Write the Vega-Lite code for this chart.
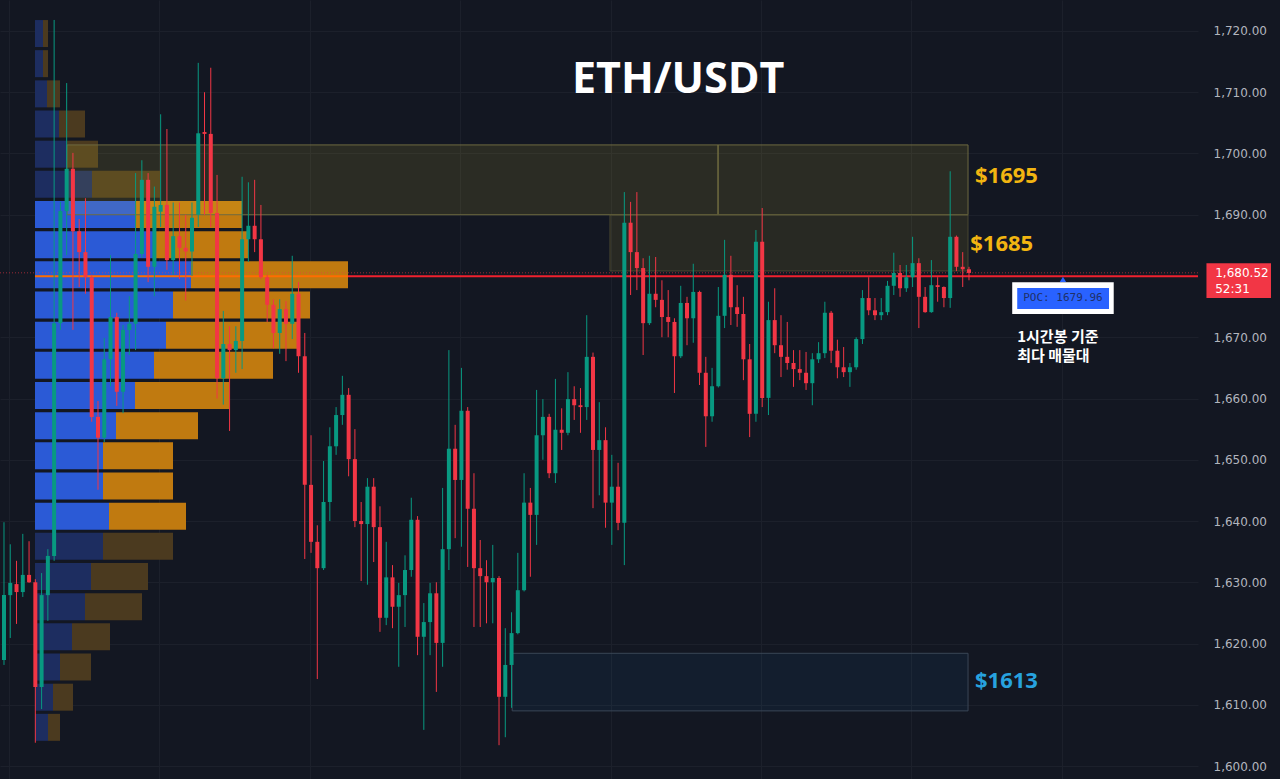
{
  "$schema": "https://vega.github.io/schema/vega-lite/v6.json",
  "width": 1198,
  "height": 779,
  "autosize": "none",
  "padding": {"left": 0, "top": 0, "right": 82, "bottom": 0},
  "background": "#131722",
  "config": {"view": {"stroke": null}, "scale": {"continuousPadding": 0}},
  "datasets": {
    "profile": [
      {"mid": 1719.34, "up": 0.8, "total": 1.3, "va": false},
      {"mid": 1714.42, "up": 0.8, "total": 1.3, "va": false},
      {"mid": 1709.49, "up": 1.2, "total": 2.5, "va": false},
      {"mid": 1704.57, "up": 2.4, "total": 5.0, "va": false},
      {"mid": 1699.64, "up": 3.2, "total": 6.3, "va": false},
      {"mid": 1694.72, "up": 5.7, "total": 12.5, "va": false},
      {"mid": 1689.79, "up": 10.0, "total": 20.7, "va": true},
      {"mid": 1684.87, "up": 12.0, "total": 21.3, "va": true},
      {"mid": 1679.94, "up": 15.6, "total": 31.3, "va": true},
      {"mid": 1675.02, "up": 13.8, "total": 27.5, "va": true},
      {"mid": 1670.09, "up": 13.1, "total": 26.2, "va": true},
      {"mid": 1665.17, "up": 11.9, "total": 23.8, "va": true},
      {"mid": 1660.24, "up": 10.0, "total": 19.4, "va": true},
      {"mid": 1655.32, "up": 8.1, "total": 16.3, "va": true},
      {"mid": 1650.39, "up": 6.8, "total": 13.8, "va": true},
      {"mid": 1645.47, "up": 6.8, "total": 13.8, "va": true},
      {"mid": 1640.54, "up": 7.4, "total": 15.1, "va": true},
      {"mid": 1635.62, "up": 6.8, "total": 13.8, "va": false},
      {"mid": 1630.69, "up": 5.6, "total": 11.3, "va": false},
      {"mid": 1625.77, "up": 5.0, "total": 10.7, "va": false},
      {"mid": 1620.84, "up": 3.7, "total": 7.5, "va": false},
      {"mid": 1615.92, "up": 2.5, "total": 5.6, "va": false},
      {"mid": 1610.99, "up": 1.8, "total": 3.8, "va": false},
      {"mid": 1606.07, "up": 1.3, "total": 2.5, "va": false}
    ],
    "candles": [
      {"i":0,"o":1617.3,"h":1639.8,"l":1616.5,"c":1627.9},
      {"i":1,"o":1627.9,"h":1636.2,"l":1620.9,"c":1629.9},
      {"i":2,"o":1629.7,"h":1633.5,"l":1623.2,"c":1628.4},
      {"i":3,"o":1628.4,"h":1637.9,"l":1627.6,"c":1631.2},
      {"i":4,"o":1631.2,"h":1636.7,"l":1629.9,"c":1630.0},
      {"i":5,"o":1630.0,"h":1630.5,"l":1603.8,"c":1612.9},
      {"i":6,"o":1612.9,"h":1631.5,"l":1609.3,"c":1627.9},
      {"i":7,"o":1627.9,"h":1635.4,"l":1623.7,"c":1634.3},
      {"i":8,"o":1634.3,"h":1721.8,"l":1633.5,"c":1672.3},
      {"i":9,"o":1672.3,"h":1692.1,"l":1671.2,"c":1690.6},
      {"i":10,"o":1690.6,"h":1711.5,"l":1683.4,"c":1697.5},
      {"i":11,"o":1697.5,"h":1700.1,"l":1671.2,"c":1687.3},
      {"i":12,"o":1687.3,"h":1689.3,"l":1678.2,"c":1683.9},
      {"i":13,"o":1683.9,"h":1692.7,"l":1677.1,"c":1679.8},
      {"i":14,"o":1679.8,"h":1680.2,"l":1656.2,"c":1657.0},
      {"i":15,"o":1657.0,"h":1659.6,"l":1645.1,"c":1653.6},
      {"i":16,"o":1653.6,"h":1669.9,"l":1652.9,"c":1666.4},
      {"i":17,"o":1666.4,"h":1683.4,"l":1662.0,"c":1673.3},
      {"i":18,"o":1673.3,"h":1674.0,"l":1658.8,"c":1661.1},
      {"i":19,"o":1661.1,"h":1672.0,"l":1657.6,"c":1671.2},
      {"i":20,"o":1671.2,"h":1676.7,"l":1667.1,"c":1672.2},
      {"i":21,"o":1672.2,"h":1696.8,"l":1667.9,"c":1683.6},
      {"i":22,"o":1683.6,"h":1698.9,"l":1683.0,"c":1695.7},
      {"i":23,"o":1695.7,"h":1696.8,"l":1679.0,"c":1681.5},
      {"i":24,"o":1681.5,"h":1694.6,"l":1676.7,"c":1691.3},
      {"i":25,"o":1690.5,"h":1706.4,"l":1688.0,"c":1691.6},
      {"i":26,"o":1691.6,"h":1704.0,"l":1681.0,"c":1682.6},
      {"i":27,"o":1682.6,"h":1692.0,"l":1680.2,"c":1686.5},
      {"i":28,"o":1686.5,"h":1692.0,"l":1679.5,"c":1684.6},
      {"i":29,"o":1684.6,"h":1690.0,"l":1676.0,"c":1684.0},
      {"i":30,"o":1684.0,"h":1692.0,"l":1680.0,"c":1689.5},
      {"i":31,"o":1690.0,"h":1714.8,"l":1688.0,"c":1703.3},
      {"i":32,"o":1703.5,"h":1710.0,"l":1690.0,"c":1703.2},
      {"i":33,"o":1703.2,"h":1714.0,"l":1688.0,"c":1690.3},
      {"i":34,"o":1690.3,"h":1696.5,"l":1660.0,"c":1663.3},
      {"i":35,"o":1663.3,"h":1674.3,"l":1659.0,"c":1668.9},
      {"i":36,"o":1668.9,"h":1671.8,"l":1654.7,"c":1667.9},
      {"i":37,"o":1667.9,"h":1671.8,"l":1664.2,"c":1669.4},
      {"i":38,"o":1669.4,"h":1696.2,"l":1664.8,"c":1686.0},
      {"i":39,"o":1686.0,"h":1695.3,"l":1682.3,"c":1688.2},
      {"i":40,"o":1688.2,"h":1695.7,"l":1683.9,"c":1686.0},
      {"i":41,"o":1686.0,"h":1691.6,"l":1679.5,"c":1679.8},
      {"i":42,"o":1679.8,"h":1680.2,"l":1672.5,"c":1675.3},
      {"i":43,"o":1675.3,"h":1676.2,"l":1668.2,"c":1670.7},
      {"i":44,"o":1670.7,"h":1676.2,"l":1667.3,"c":1674.6},
      {"i":45,"o":1674.6,"h":1675.9,"l":1666.1,"c":1672.2},
      {"i":46,"o":1672.2,"h":1683.3,"l":1669.7,"c":1677.1},
      {"i":47,"o":1677.1,"h":1679.0,"l":1664.2,"c":1666.9},
      {"i":48,"o":1666.9,"h":1670.7,"l":1633.8,"c":1645.9},
      {"i":49,"o":1645.9,"h":1654.0,"l":1634.8,"c":1636.6},
      {"i":50,"o":1636.6,"h":1639.3,"l":1614.2,"c":1632.3},
      {"i":51,"o":1632.3,"h":1649.8,"l":1632.0,"c":1643.1},
      {"i":52,"o":1643.1,"h":1655.3,"l":1640.0,"c":1652.2},
      {"i":53,"o":1652.2,"h":1658.6,"l":1650.8,"c":1657.3},
      {"i":54,"o":1657.3,"h":1663.7,"l":1655.7,"c":1660.6},
      {"i":55,"o":1660.6,"h":1661.7,"l":1647.3,"c":1650.1},
      {"i":56,"o":1650.1,"h":1655.0,"l":1639.0,"c":1640.0},
      {"i":57,"o":1640.0,"h":1643.1,"l":1630.2,"c":1639.5},
      {"i":58,"o":1639.5,"h":1647.0,"l":1629.6,"c":1645.6},
      {"i":59,"o":1645.6,"h":1647.0,"l":1633.3,"c":1639.0},
      {"i":60,"o":1639.0,"h":1642.4,"l":1621.9,"c":1624.2},
      {"i":61,"o":1624.2,"h":1636.6,"l":1623.0,"c":1630.8},
      {"i":62,"o":1630.8,"h":1632.8,"l":1622.5,"c":1626.0},
      {"i":63,"o":1626.0,"h":1629.9,"l":1616.2,"c":1627.9},
      {"i":64,"o":1627.9,"h":1634.4,"l":1622.7,"c":1632.0},
      {"i":65,"o":1632.0,"h":1643.8,"l":1630.9,"c":1640.2},
      {"i":66,"o":1640.2,"h":1640.8,"l":1618.1,"c":1621.1},
      {"i":67,"o":1621.1,"h":1626.6,"l":1605.9,"c":1623.5},
      {"i":68,"o":1623.5,"h":1629.9,"l":1618.1,"c":1628.2},
      {"i":69,"o":1628.2,"h":1630.0,"l":1612.1,"c":1620.1},
      {"i":70,"o":1620.1,"h":1645.4,"l":1616.2,"c":1635.4},
      {"i":71,"o":1635.4,"h":1667.9,"l":1632.0,"c":1651.8},
      {"i":72,"o":1651.8,"h":1655.7,"l":1637.2,"c":1646.7},
      {"i":73,"o":1646.7,"h":1665.0,"l":1635.8,"c":1658.0},
      {"i":74,"o":1658.0,"h":1658.6,"l":1632.5,"c":1642.0},
      {"i":75,"o":1642.0,"h":1647.8,"l":1622.7,"c":1632.3},
      {"i":76,"o":1632.3,"h":1636.9,"l":1622.7,"c":1631.0},
      {"i":77,"o":1631.0,"h":1633.6,"l":1623.3,"c":1630.0},
      {"i":78,"o":1630.0,"h":1636.1,"l":1623.3,"c":1630.7},
      {"i":79,"o":1630.7,"h":1631.0,"l":1603.4,"c":1611.3},
      {"i":80,"o":1611.3,"h":1622.5,"l":1604.7,"c":1616.5},
      {"i":81,"o":1616.5,"h":1625.1,"l":1609.5,"c":1621.7},
      {"i":82,"o":1621.7,"h":1634.8,"l":1621.5,"c":1628.7},
      {"i":83,"o":1628.7,"h":1647.8,"l":1628.5,"c":1643.0},
      {"i":84,"o":1643.0,"h":1645.4,"l":1630.9,"c":1641.0},
      {"i":85,"o":1641.0,"h":1661.4,"l":1636.1,"c":1654.0},
      {"i":86,"o":1654.0,"h":1659.9,"l":1650.0,"c":1657.0},
      {"i":87,"o":1657.0,"h":1657.5,"l":1647.0,"c":1647.8},
      {"i":88,"o":1647.8,"h":1663.2,"l":1646.2,"c":1654.9},
      {"i":89,"o":1654.9,"h":1658.4,"l":1651.6,"c":1654.4},
      {"i":90,"o":1654.4,"h":1664.3,"l":1654.0,"c":1659.9},
      {"i":91,"o":1659.9,"h":1662.0,"l":1656.5,"c":1658.9},
      {"i":92,"o":1658.9,"h":1661.7,"l":1654.4,"c":1658.6},
      {"i":93,"o":1658.6,"h":1673.6,"l":1656.5,"c":1666.8},
      {"i":94,"o":1666.8,"h":1667.5,"l":1642.1,"c":1651.6},
      {"i":95,"o":1651.6,"h":1659.4,"l":1644.2,"c":1653.2},
      {"i":96,"o":1653.2,"h":1655.3,"l":1638.9,"c":1643.0},
      {"i":97,"o":1643.0,"h":1650.8,"l":1636.1,"c":1645.6},
      {"i":98,"o":1645.6,"h":1649.5,"l":1638.5,"c":1639.7},
      {"i":99,"o":1639.7,"h":1693.7,"l":1632.8,"c":1688.7},
      {"i":100,"o":1688.7,"h":1692.1,"l":1676.9,"c":1683.9},
      {"i":101,"o":1683.9,"h":1693.7,"l":1677.7,"c":1681.3},
      {"i":102,"o":1681.3,"h":1682.9,"l":1667.1,"c":1672.3},
      {"i":103,"o":1672.3,"h":1683.3,"l":1672.0,"c":1677.1},
      {"i":104,"o":1677.1,"h":1683.1,"l":1674.9,"c":1676.1},
      {"i":105,"o":1676.1,"h":1679.3,"l":1670.0,"c":1673.3},
      {"i":106,"o":1673.3,"h":1677.7,"l":1670.0,"c":1672.5},
      {"i":107,"o":1672.5,"h":1673.1,"l":1660.9,"c":1666.9},
      {"i":108,"o":1666.9,"h":1678.4,"l":1666.6,"c":1675.6},
      {"i":109,"o":1675.6,"h":1676.6,"l":1668.7,"c":1673.1},
      {"i":110,"o":1673.1,"h":1682.0,"l":1669.1,"c":1677.4},
      {"i":111,"o":1677.4,"h":1677.6,"l":1662.2,"c":1664.2},
      {"i":112,"o":1664.2,"h":1666.8,"l":1652.1,"c":1657.1},
      {"i":113,"o":1657.1,"h":1665.0,"l":1656.2,"c":1662.0},
      {"i":114,"o":1662.0,"h":1678.2,"l":1661.8,"c":1673.5},
      {"i":115,"o":1673.5,"h":1685.9,"l":1671.5,"c":1680.2},
      {"i":116,"o":1680.2,"h":1683.3,"l":1672.0,"c":1674.9},
      {"i":117,"o":1674.9,"h":1678.5,"l":1671.7,"c":1673.8},
      {"i":118,"o":1673.8,"h":1676.6,"l":1663.0,"c":1666.4},
      {"i":119,"o":1666.4,"h":1668.9,"l":1653.7,"c":1657.5},
      {"i":120,"o":1657.5,"h":1687.5,"l":1656.2,"c":1685.6},
      {"i":121,"o":1685.6,"h":1691.1,"l":1658.6,"c":1660.1},
      {"i":122,"o":1660.1,"h":1675.8,"l":1657.3,"c":1672.8},
      {"i":123,"o":1672.8,"h":1678.0,"l":1667.4,"c":1668.7},
      {"i":124,"o":1668.7,"h":1673.6,"l":1663.5,"c":1666.8},
      {"i":125,"o":1666.8,"h":1672.5,"l":1664.7,"c":1665.8},
      {"i":126,"o":1665.8,"h":1667.9,"l":1661.9,"c":1664.8},
      {"i":127,"o":1664.8,"h":1667.9,"l":1663.0,"c":1664.2},
      {"i":128,"o":1664.2,"h":1667.6,"l":1661.4,"c":1662.5},
      {"i":129,"o":1662.5,"h":1667.4,"l":1658.9,"c":1666.4},
      {"i":130,"o":1666.4,"h":1669.2,"l":1665.8,"c":1667.4},
      {"i":131,"o":1667.4,"h":1675.8,"l":1666.6,"c":1674.0},
      {"i":132,"o":1674.0,"h":1674.3,"l":1665.8,"c":1667.8},
      {"i":133,"o":1667.8,"h":1669.6,"l":1663.3,"c":1665.1},
      {"i":134,"o":1665.1,"h":1668.4,"l":1663.5,"c":1664.3},
      {"i":135,"o":1664.3,"h":1665.8,"l":1661.9,"c":1665.1},
      {"i":136,"o":1665.1,"h":1670.0,"l":1664.7,"c":1669.7},
      {"i":137,"o":1669.7,"h":1677.7,"l":1668.9,"c":1676.4},
      {"i":138,"o":1676.4,"h":1679.8,"l":1673.6,"c":1674.4},
      {"i":139,"o":1674.4,"h":1676.4,"l":1672.8,"c":1673.6},
      {"i":140,"o":1673.6,"h":1676.4,"l":1672.8,"c":1674.1},
      {"i":141,"o":1674.1,"h":1679.2,"l":1673.6,"c":1678.4},
      {"i":142,"o":1678.4,"h":1683.8,"l":1676.9,"c":1680.5},
      {"i":143,"o":1680.5,"h":1681.8,"l":1676.6,"c":1678.0},
      {"i":144,"o":1678.0,"h":1681.8,"l":1677.4,"c":1679.8},
      {"i":145,"o":1679.8,"h":1686.4,"l":1678.2,"c":1682.1},
      {"i":146,"o":1682.1,"h":1682.9,"l":1671.5,"c":1676.6},
      {"i":147,"o":1676.6,"h":1678.2,"l":1674.0,"c":1674.1},
      {"i":148,"o":1674.1,"h":1682.6,"l":1674.0,"c":1678.5},
      {"i":149,"o":1678.5,"h":1679.8,"l":1675.8,"c":1678.2},
      {"i":150,"o":1678.2,"h":1678.3,"l":1674.9,"c":1676.4},
      {"i":151,"o":1676.4,"h":1697.1,"l":1674.8,"c":1686.4},
      {"i":152,"o":1686.4,"h":1686.6,"l":1680.8,"c":1681.5},
      {"i":153,"o":1681.5,"h":1683.9,"l":1678.2,"c":1681.1},
      {"i":154,"o":1681.1,"h":1681.5,"l":1679.3,"c":1680.5}
    ]
  },
  "resolve": {"scale": {"x": "independent"}},
  "layer": [
    {
      "layer": [
        {
          "data": {"name": "profile"},
          "mark": {"type": "bar", "orient": "horizontal", "size": 27, "yOffset": -1.5},
          "encoding": {
            "x": {"field": "up", "type": "quantitative", "scale": {"domain": [-3.5, 116.3], "nice": false, "zero": false, "padding": 0}, "axis": null},
            "y": {"field": "mid", "type": "quantitative", "scale": {"domain": [1597.88, 1725.06], "nice": false, "zero": false, "padding": 0},
              "axis": {"orient": "right", "values": [1600,1610,1620,1630,1640,1650,1660,1670,1690,1700,1710,1720], "format": ",.2f", "labelColor": "#b2b5be", "labelFont": "DejaVu Sans", "labelFontSize": 12, "labelPadding": 15, "labelAlign": "left", "labelBaseline": "middle", "ticks": false, "domain": false, "title": null, "grid": true, "gridColor": "#1c202b", "gridWidth": 1}},
            "color": {"condition": {"test": "datum.va", "value": "#2b5ad6"}, "value": "#1d2d60"}
          }
        },
        {
          "data": {"name": "profile"},
          "mark": {"type": "bar", "orient": "horizontal", "size": 27, "yOffset": -1.5},
          "encoding": {
            "x": {"field": "up", "type": "quantitative"},
            "x2": {"field": "total"},
            "y": {"field": "mid", "type": "quantitative"},
            "color": {"condition": {"test": "datum.va", "value": "#c07a10"}, "value": "#4b3a1f"}
          }
        },
        {
          "data": {"values": [{"p": 1680.52, "from": -3.5, "to": 116.3}]},
          "mark": {"type": "rule", "stroke": "#f23645", "strokeDash": [1, 2], "strokeWidth": 1, "opacity": 0.6},
          "encoding": {"x": {"field": "from", "type": "quantitative"}, "x2": {"field": "to"}, "y": {"field": "p", "type": "quantitative"}}
        },
        {
          "data": {"values": [{"p": 1679.96, "from": 0, "to": 31.3}]},
          "mark": {"type": "rule", "stroke": "#ff6d00", "strokeWidth": 2},
          "encoding": {"x": {"field": "from", "type": "quantitative"}, "x2": {"field": "to"}, "y": {"field": "p", "type": "quantitative"}}
        },
        {
          "data": {"values": [{"p": 1679.96, "from": 31.3, "to": 116.3}]},
          "mark": {"type": "rule", "stroke": "#f0212e", "strokeWidth": 2},
          "encoding": {"x": {"field": "from", "type": "quantitative"}, "x2": {"field": "to"}, "y": {"field": "p", "type": "quantitative"}}
        }
      ]
    },
    {
      "layer": [
        {
          "data": {"values": [
            {"x1": 10.05, "x2": 113.95, "p1": 1690.0, "p2": 1701.4},
            {"x1": 113.95, "x2": 153.85, "p1": 1690.0, "p2": 1701.4}
          ]},
          "mark": {"type": "rect", "fill": "#ffeb3b", "fillOpacity": 0.1, "stroke": "#6e6a40", "strokeWidth": 1},
          "encoding": {
            "x": {"field": "x1", "type": "quantitative", "scale": {"domain": [-0.638, 190.55], "nice": false, "zero": false, "padding": 0},
              "axis": {"orient": "bottom", "values": [0.8, 24.8, 48.8, 72.8, 96.8, 120.8, 144.8, 168.8], "grid": true, "gridColor": "#1c202b", "labels": false, "ticks": false, "domain": false, "title": null}},
            "x2": {"field": "x2"},
            "y": {"field": "p1", "type": "quantitative"},
            "y2": {"field": "p2"}
          }
        },
        {
          "data": {"values": [{"x1": 96.7, "x2": 153.85, "p1": 1680.82, "p2": 1690.0}]},
          "mark": {"type": "rect", "fill": "#ffeb3b", "fillOpacity": 0.09, "stroke": "#5a5738", "strokeOpacity": 0.7, "strokeWidth": 1},
          "encoding": {
            "x": {"field": "x1", "type": "quantitative"},
            "x2": {"field": "x2"},
            "y": {"field": "p1", "type": "quantitative"},
            "y2": {"field": "p2"}
          }
        },
        {
          "data": {"values": [{"x1": 81.1, "x2": 153.85, "p1": 1609.0, "p2": 1618.4}]},
          "mark": {"type": "rect", "fill": "#2196f3", "fillOpacity": 0.06, "stroke": "#3a4656", "strokeWidth": 1},
          "encoding": {
            "x": {"field": "x1", "type": "quantitative"},
            "x2": {"field": "x2"},
            "y": {"field": "p1", "type": "quantitative"},
            "y2": {"field": "p2"}
          }
        },
        {
          "data": {"name": "candles"},
          "mark": {"type": "rule", "strokeWidth": 1},
          "encoding": {
            "x": {"field": "i", "type": "quantitative"},
            "y": {"field": "l", "type": "quantitative"},
            "y2": {"field": "h"},
            "color": {"condition": {"test": "datum.c >= datum.o", "value": "#089981"}, "value": "#f23645"}
          }
        },
        {
          "data": {"name": "candles"},
          "mark": {"type": "bar", "size": 4},
          "encoding": {
            "x": {"field": "i", "type": "quantitative"},
            "y": {"field": "o", "type": "quantitative"},
            "y2": {"field": "c"},
            "color": {"condition": {"test": "datum.c >= datum.o", "value": "#089981"}, "value": "#f23645"}
          }
        },
        {
          "data": {"values": [{"i": 107.6, "p": 1709.83, "label": "ETH/USDT"}]},
          "mark": {"type": "text", "font": "Open Sans", "fontSize": 43, "fontWeight": "bold", "color": "#ffffff", "align": "center", "baseline": "alphabetic"},
          "encoding": {"x": {"field": "i", "type": "quantitative"}, "y": {"field": "p", "type": "quantitative"}, "text": {"field": "label"}}
        },
        {
          "data": {"values": [{"i": 154.96, "p": 1695.13, "label": "$1695"}, {"i": 154.2, "p": 1684.1, "label": "$1685"}]},
          "mark": {"type": "text", "font": "Open Sans", "fontSize": 22, "fontWeight": "bold", "color": "#f2b511", "align": "left", "baseline": "alphabetic"},
          "encoding": {"x": {"field": "i", "type": "quantitative"}, "y": {"field": "p", "type": "quantitative"}, "text": {"field": "label"}}
        },
        {
          "data": {"values": [{"i": 154.96, "p": 1612.8, "label": "$1613"}]},
          "mark": {"type": "text", "font": "Open Sans", "fontSize": 22, "fontWeight": "bold", "color": "#27a2df", "align": "left", "baseline": "alphabetic"},
          "encoding": {"x": {"field": "i", "type": "quantitative"}, "y": {"field": "p", "type": "quantitative"}, "text": {"field": "label"}}
        },
        {
          "data": {"values": [{"x1": 160.9, "x2": 177.1, "p1": 1673.8, "p2": 1679.0}]},
          "mark": {"type": "rect", "fill": "#ffffff"},
          "encoding": {"x": {"field": "x1", "type": "quantitative"}, "x2": {"field": "x2"}, "y": {"field": "p1", "type": "quantitative"}, "y2": {"field": "p2"}}
        },
        {
          "data": {"values": [{"x1": 161.7, "x2": 176.35, "p1": 1674.6, "p2": 1678.04}]},
          "mark": {"type": "rect", "fill": "#2962ff"},
          "encoding": {"x": {"field": "x1", "type": "quantitative"}, "x2": {"field": "x2"}, "y": {"field": "p1", "type": "quantitative"}, "y2": {"field": "p2"}}
        },
        {
          "data": {"values": [{"i": 169.0, "p": 1679.45}]},
          "mark": {"type": "point", "shape": "triangle-up", "filled": true, "size": 40, "color": "#2962ff", "opacity": 1},
          "encoding": {"x": {"field": "i", "type": "quantitative"}, "y": {"field": "p", "type": "quantitative"}}
        },
        {
          "data": {"values": [{"i": 169.0, "p": 1676.33, "label": "POC: 1679.96"}]},
          "mark": {"type": "text", "font": "DejaVu Sans Mono", "fontSize": 11, "color": "#1f3068", "align": "center", "baseline": "middle"},
          "encoding": {"x": {"field": "i", "type": "quantitative"}, "y": {"field": "p", "type": "quantitative"}, "text": {"field": "label"}}
        },
        {
          "data": {"values": [{"i": 161.7, "p": 1669.27, "label": "1시간봉 기준"}, {"i": 161.7, "p": 1666.17, "label": "최다 매물대"}]},
          "mark": {"type": "text", "font": "Noto Sans CJK KR", "fontSize": 15, "fontWeight": "bold", "color": "#ffffff", "align": "left", "baseline": "alphabetic"},
          "encoding": {"x": {"field": "i", "type": "quantitative"}, "y": {"field": "p", "type": "quantitative"}, "text": {"field": "label"}}
        },
        {
          "data": {"values": [{"x1": 191.9, "x2": 202.2, "p1": 1676.4, "p2": 1682.1}]},
          "mark": {"type": "rect", "fill": "#f23645"},
          "encoding": {"x": {"field": "x1", "type": "quantitative"}, "x2": {"field": "x2"}, "y": {"field": "p1", "type": "quantitative"}, "y2": {"field": "p2"}}
        },
        {
          "data": {"values": [{"i": 193.3, "p": 1680.5, "label": "1,680.52"}, {"i": 193.3, "p": 1677.8, "label": "52:31"}]},
          "mark": {"type": "text", "font": "DejaVu Sans", "fontSize": 12, "color": "#ffffff", "align": "left", "baseline": "middle"},
          "encoding": {"x": {"field": "i", "type": "quantitative"}, "y": {"field": "p", "type": "quantitative"}, "text": {"field": "label"}}
        }
      ]
    }
  ]
}
